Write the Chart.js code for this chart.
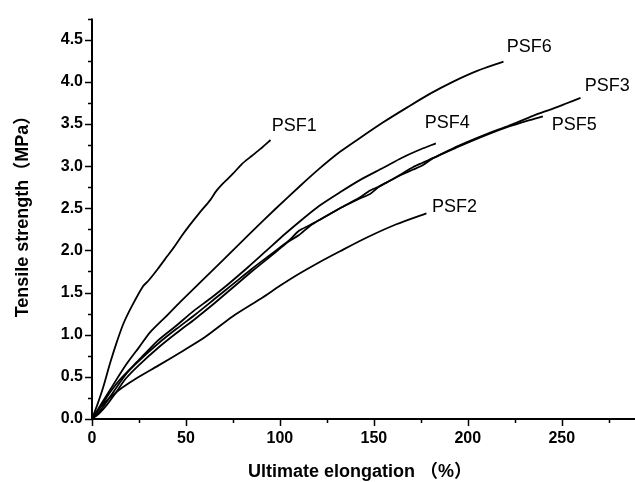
<!DOCTYPE html>
<html>
<head>
<meta charset="utf-8">
<script src="https://cdn.jsdelivr.net/npm/chart.js@4/dist/chart.umd.min.js"></script>
<style>
  html, body { margin: 0; padding: 0; background: #fff; }
  #wrap { width: 635px; height: 482px; }
</style>
</head>
<body>
<div id="wrap"><canvas id="chart" width="635" height="482"></canvas></div>
<script>
// values: elongation (%) and tensile strength (MPa)
const psf1X = [0, 3, 6, 9.6, 13, 16.7, 21, 27, 30, 35, 40, 44, 48, 52, 57, 63, 66, 70, 75, 80, 85, 90, 95];
const psf1Y = [0, 0.18, 0.38, 0.66, 0.9, 1.13, 1.33, 1.57, 1.64, 1.78, 1.93, 2.05, 2.18, 2.3, 2.44, 2.6, 2.7, 2.8, 2.91, 3.03, 3.12, 3.21, 3.31];

const psf2X = [0, 3, 7, 12, 16, 25, 35, 47, 60, 75, 90, 100, 110, 121, 132, 146, 162, 178];
const psf2Y = [0, 0.1, 0.2, 0.3, 0.37, 0.5, 0.63, 0.79, 0.97, 1.22, 1.43, 1.58, 1.72, 1.86, 1.99, 2.15, 2.31, 2.44];

const psf3X = [0, 4, 8, 12, 18, 25, 36, 45, 55, 65, 75, 85, 95, 105, 110, 116, 121, 132, 142, 148, 153, 158, 165, 171, 176, 182, 195, 210, 222, 235, 245, 252, 260];
const psf3Y = [0, 0.09, 0.21, 0.34, 0.53, 0.69, 0.91, 1.07, 1.24, 1.42, 1.6, 1.78, 1.95, 2.12, 2.23, 2.3, 2.36, 2.5, 2.62, 2.71, 2.76, 2.82, 2.91, 2.99, 3.04, 3.1, 3.24, 3.38, 3.48, 3.6, 3.68, 3.74, 3.81];

const psf4X = [0, 5, 10, 15, 25, 35, 45, 54, 63, 72, 83, 93, 103, 112, 121, 132, 143, 155, 165, 175, 183];
const psf4Y = [0, 0.16, 0.33, 0.47, 0.7, 0.93, 1.11, 1.28, 1.43, 1.59, 1.8, 2.0, 2.2, 2.37, 2.53, 2.69, 2.84, 2.98, 3.1, 3.2, 3.27];

const psf5X = [0, 4, 8, 12, 18, 25, 36, 45, 55, 65, 75, 85, 95, 105, 110, 116, 121, 132, 142, 148, 153, 158, 165, 171, 176, 182, 195, 210, 222, 232, 240];
const psf5Y = [0, 0.07, 0.17, 0.29, 0.48, 0.64, 0.86, 1.02, 1.19, 1.37, 1.56, 1.75, 1.93, 2.11, 2.18, 2.29, 2.36, 2.5, 2.61, 2.67, 2.76, 2.82, 2.9, 2.96, 3.01, 3.1, 3.23, 3.37, 3.47, 3.54, 3.59];

const psf6X = [0, 5, 10, 18, 25, 31, 40, 47, 58, 70, 84, 98, 111, 121, 132, 143, 155, 168, 180, 192, 205, 219];
const psf6Y = [0, 0.18, 0.36, 0.64, 0.85, 1.03, 1.23, 1.39, 1.63, 1.89, 2.2, 2.5, 2.77, 2.97, 3.17, 3.34, 3.52, 3.7, 3.86, 4.0, 4.13, 4.24];

const seriesNames = ['PSF1', 'PSF2', 'PSF3', 'PSF4', 'PSF5', 'PSF6'];
const seriesX = [psf1X, psf2X, psf3X, psf4X, psf5X, psf6X];
const seriesY = [psf1Y, psf2Y, psf3Y, psf4Y, psf5Y, psf6Y];

// where each curve's name sits (data units, left edge / middle of text)
const labelX = [95.7, 180.9, 262.2, 177.1, 244.7, 220.7];
const labelY = [3.48, 2.52, 3.95, 3.51, 3.49, 4.41];

const xTickValues = [0, 50, 100, 150, 200, 250];
const yTickValues = [0, 0.5, 1.0, 1.5, 2.0, 2.5, 3.0, 3.5, 4.0, 4.5];

const xMax = 289;
const yMax = 4.75;

const FONT = '"Liberation Sans", Arial, "Noto Sans CJK SC", sans-serif';

const datasets = seriesNames.map((name, i) => ({
  label: name,
  data: seriesX[i].map((x, j) => ({ x: x, y: seriesY[i][j] })),
  showLine: true,
  borderColor: '#000',
  borderWidth: 1.8,
  pointRadius: 0,
  tension: 0.25,
  fill: false,
}));

// axis lines, major/minor ticks, curve names and axis titles
const decorPlugin = {
  id: 'decor',
  afterDraw(chart) {
    const { ctx, chartArea: a, scales } = chart;
    const xs = scales.x;
    const ys = scales.y;
    ctx.save();
    ctx.strokeStyle = '#000';
    ctx.lineCap = 'butt';

    ctx.lineWidth = 2;
    ctx.beginPath();
    ctx.moveTo(a.left, a.top);
    ctx.lineTo(a.left, a.bottom);
    ctx.lineTo(a.right, a.bottom);
    ctx.stroke();

    ctx.lineWidth = 1.5;
    ctx.beginPath();
    for (let v = 0; v <= xMax; v += 25) {
      const px = Math.round(xs.getPixelForValue(v)) + 0.5;
      const len = v % 50 === 0 ? 7 : 4;
      ctx.moveTo(px, a.bottom);
      ctx.lineTo(px, a.bottom + len);
    }
    for (let k = 0; k * 0.25 <= yMax + 1e-9; k++) {
      const py = Math.round(ys.getPixelForValue(k * 0.25)) + 0.5;
      const len = k % 2 === 0 ? 7 : 4;
      ctx.moveTo(a.left, py);
      ctx.lineTo(a.left - len, py);
    }
    ctx.stroke();

    ctx.fillStyle = '#000';
    ctx.font = '18px ' + FONT;
    ctx.textAlign = 'left';
    ctx.textBaseline = 'middle';
    seriesNames.forEach((name, i) => {
      ctx.fillText(name, xs.getPixelForValue(labelX[i]), ys.getPixelForValue(labelY[i]));
    });

    ctx.font = 'bold 18px ' + FONT;
    ctx.textAlign = 'center';
    ctx.fillText('Ultimate elongation （%）', 360, 472);

    ctx.translate(23, 212);
    ctx.rotate(-Math.PI / 2);
    ctx.fillText('Tensile strength（MPa）', 0, 0);
    ctx.restore();
  },
};

new Chart(document.getElementById('chart'), {
  type: 'scatter',
  data: { datasets: datasets },
  options: {
    responsive: false,
    animation: false,
    layout: { padding: { top: 13, right: 0, left: 0, bottom: 0 } },
    plugins: {
      legend: { display: false },
      tooltip: { enabled: false },
    },
    scales: {
      x: {
        type: 'linear',
        min: 0,
        max: xMax,
        afterFit: (scale) => { scale.height = 63; },
        afterBuildTicks: (scale) => { scale.ticks = xTickValues.map((v) => ({ value: v })); },
        grid: { display: false, drawTicks: false },
        border: { display: false },
        ticks: {
          padding: 10,
          color: '#000',
          font: { family: FONT, size: 16, weight: 'bold' },
          maxRotation: 0,
          autoSkip: false,
          callback: (v) => String(v),
        },
      },
      y: {
        type: 'linear',
        min: 0,
        max: yMax,
        afterFit: (scale) => { scale.width = 92; },
        afterBuildTicks: (scale) => { scale.ticks = yTickValues.map((v) => ({ value: v })); },
        grid: { display: false, drawTicks: false },
        border: { display: false },
        ticks: {
          padding: 9,
          color: '#000',
          font: { family: FONT, size: 16, weight: 'bold' },
          autoSkip: false,
          callback: (v) => Number(v).toFixed(1),
        },
      },
    },
  },
  plugins: [decorPlugin],
});
</script>
</body>
</html>
